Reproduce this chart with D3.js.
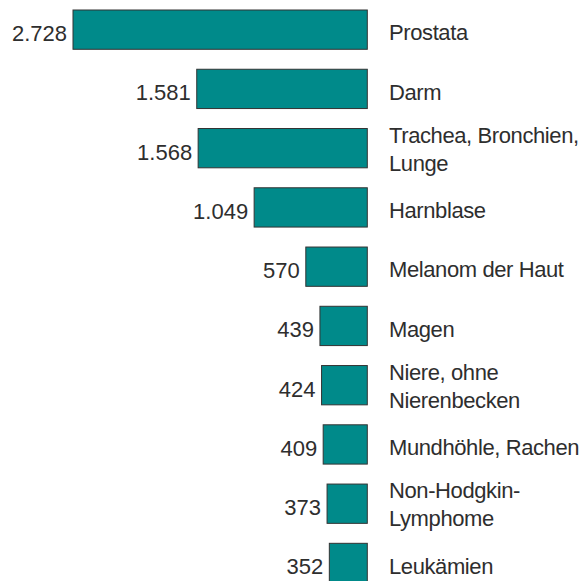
<!DOCTYPE html>
<html>
<head>
<meta charset="utf-8">
<script src="https://cdn.jsdelivr.net/npm/d3@7/dist/d3.min.js"></script>
<style>
  html, body { margin: 0; padding: 0; background: #ffffff; }
  svg { display: block; }
  text { font-family: "Liberation Sans", Arial, sans-serif; fill: #2e2e2e; }
</style>
</head>
<body>
<svg id="chart" width="585" height="581"></svg>
<script>
// Categories (label lines) and values
const categories = [
  "Prostata", "Darm", "Trachea, Bronchien, Lunge", "Harnblase", "Melanom der Haut",
  "Magen", "Niere, ohne Nierenbecken", "Mundhöhle, Rachen", "Non-Hodgkin-Lymphome", "Leukämien"
];
const labelLines = [
  ["Prostata"], ["Darm"], ["Trachea, Bronchien,", "Lunge"], ["Harnblase"], ["Melanom der Haut"],
  ["Magen"], ["Niere, ohne", "Nierenbecken"], ["Mundhöhle, Rachen"], ["Non-Hodgkin-", "Lymphome"], ["Leukämien"]
];
const values = [2728, 1581, 1568, 1049, 570, 439, 424, 409, 373, 352];
const valueLabels = ["2.728", "1.581", "1.568", "1.049", "570", "439", "424", "409", "373", "352"];

const data = categories.map((c, i) => ({ cat: c, lines: labelLines[i], value: values[i], vlabel: valueLabels[i] }));

const svg = d3.select("#chart");
const fontSize = 22;

const x = d3.scaleLinear().domain([0, 2728]).range([367.3, 73]);
const y = d3.scaleBand().domain(categories).range([10, 582.6]).paddingInner(0.337).paddingOuter(0);

const row = svg.selectAll("g.row").data(data).join("g").attr("class", "row");

row.append("rect")
  .attr("x", d => x(d.value))
  .attr("y", d => y(d.cat))
  .attr("width", d => x(0) - x(d.value))
  .attr("height", y.bandwidth())
  .attr("fill", "#008a8a")
  .attr("stroke", "#333333")
  .attr("stroke-width", 1);

row.append("text")
  .attr("x", d => x(d.value) - 6)
  .attr("y", d => y(d.cat) + y.bandwidth() / 2 + 11.5)
  .attr("text-anchor", "end")
  .style("font-size", fontSize + "px")
  .text(d => d.vlabel);

row.each(function(d) {
  const cy = y(d.cat) + y.bandwidth() / 2;
  const t = d3.select(this).append("text")
    .attr("x", 389)
    .style("font-size", fontSize + "px")
    .style("letter-spacing", "-0.4px");
  if (d.lines.length === 1) {
    t.attr("y", cy + 10.7).text(d.lines[0]);
  } else {
    t.selectAll("tspan").data(d.lines).join("tspan")
      .attr("x", 389)
      .attr("y", (l, i) => cy - 5.3 + i * 27.8)
      .text(l => l);
  }
});
</script>
</body>
</html>
